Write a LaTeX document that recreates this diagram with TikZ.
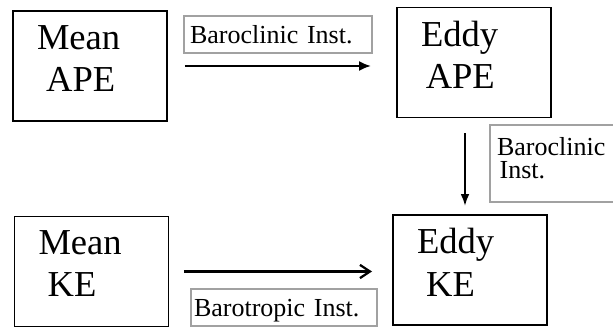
\documentclass[tikz,border=0pt]{standalone}
\usepackage{fontspec}
\setmainfont{Liberation Serif}
\usetikzlibrary{arrows.meta,calc}
\definecolor{LabelGray}{rgb}{.63,.63,.63}

\begin{document}
\begin{tikzpicture}[
		energy/.style={draw, line width=1.4pt, minimum width=3.85cm, minimum height=2.75cm, text width=2.65cm, align=left, text depth=41pt, font=\fontsize{26}{30}\selectfont},
		inst/.style={draw=LabelGray, line width=1pt, inner xsep=0pt, minimum height=0.925cm, align=left, text depth=0pt, font=\fontsize{18.5}{17}\selectfont}
		]
		\useasboundingbox (0,0) rectangle (15.325,8.175);
		\clip (0,0) rectangle (15.325,8.175);

		\node[energy] (MA) at (2.25,6.525) {Mean\\\hspace*{.25em}APE};
		\node[energy] (EA) at (11.85,6.6125) {Eddy\\\hspace*{.13em}APE};
		\node[energy] (MK) at (2.2875,1.3875) {Mean\\\hspace*{.25em}KE};
		\node[energy] (EK) at (11.75,1.425) {Eddy\\\hspace*{.25em}KE};

		\node[inst, minimum width=4.7cm, text width=4.4cm] (BC) at (6.95,7.3125) {Baroclinic Inst.};
		\node[inst, minimum width=4.7cm, text width=4.35cm, minimum height=1.925cm, text depth=24.8pt] (BCV) at (14.6,4.0875) {Baroclinic\\\hspace*{.1em}Inst.};
		\node[inst, minimum width=4.65cm, text width=4.5cm] (BT) at (7.1,0.4875) {Barotropic Inst.};

		\draw[-{Latex[length=0.3cm,width=0.25cm]}, line width=1.4pt, shorten <=0.425cm, shorten >=0.625cm] (MA.east) -- (MA.east -| EA.west);
		\draw[-{Latex[length=0.3cm,width=0.22cm]}, line width=1.4pt, shorten <=0.375cm, shorten >=0.2cm] ($(EA.south)+(-0.225,0)$) -- ($(EA.south |- EK.north)+(-0.225,0)$);
		\draw[-{Straight Barb[length=0.25cm,width=0.33cm]}, line width=1.6pt, shorten <=0.3625cm, shorten >=0.5cm] (MK.east) -- (MK.east -| EK.west);
	\end{tikzpicture}
\end{document}
